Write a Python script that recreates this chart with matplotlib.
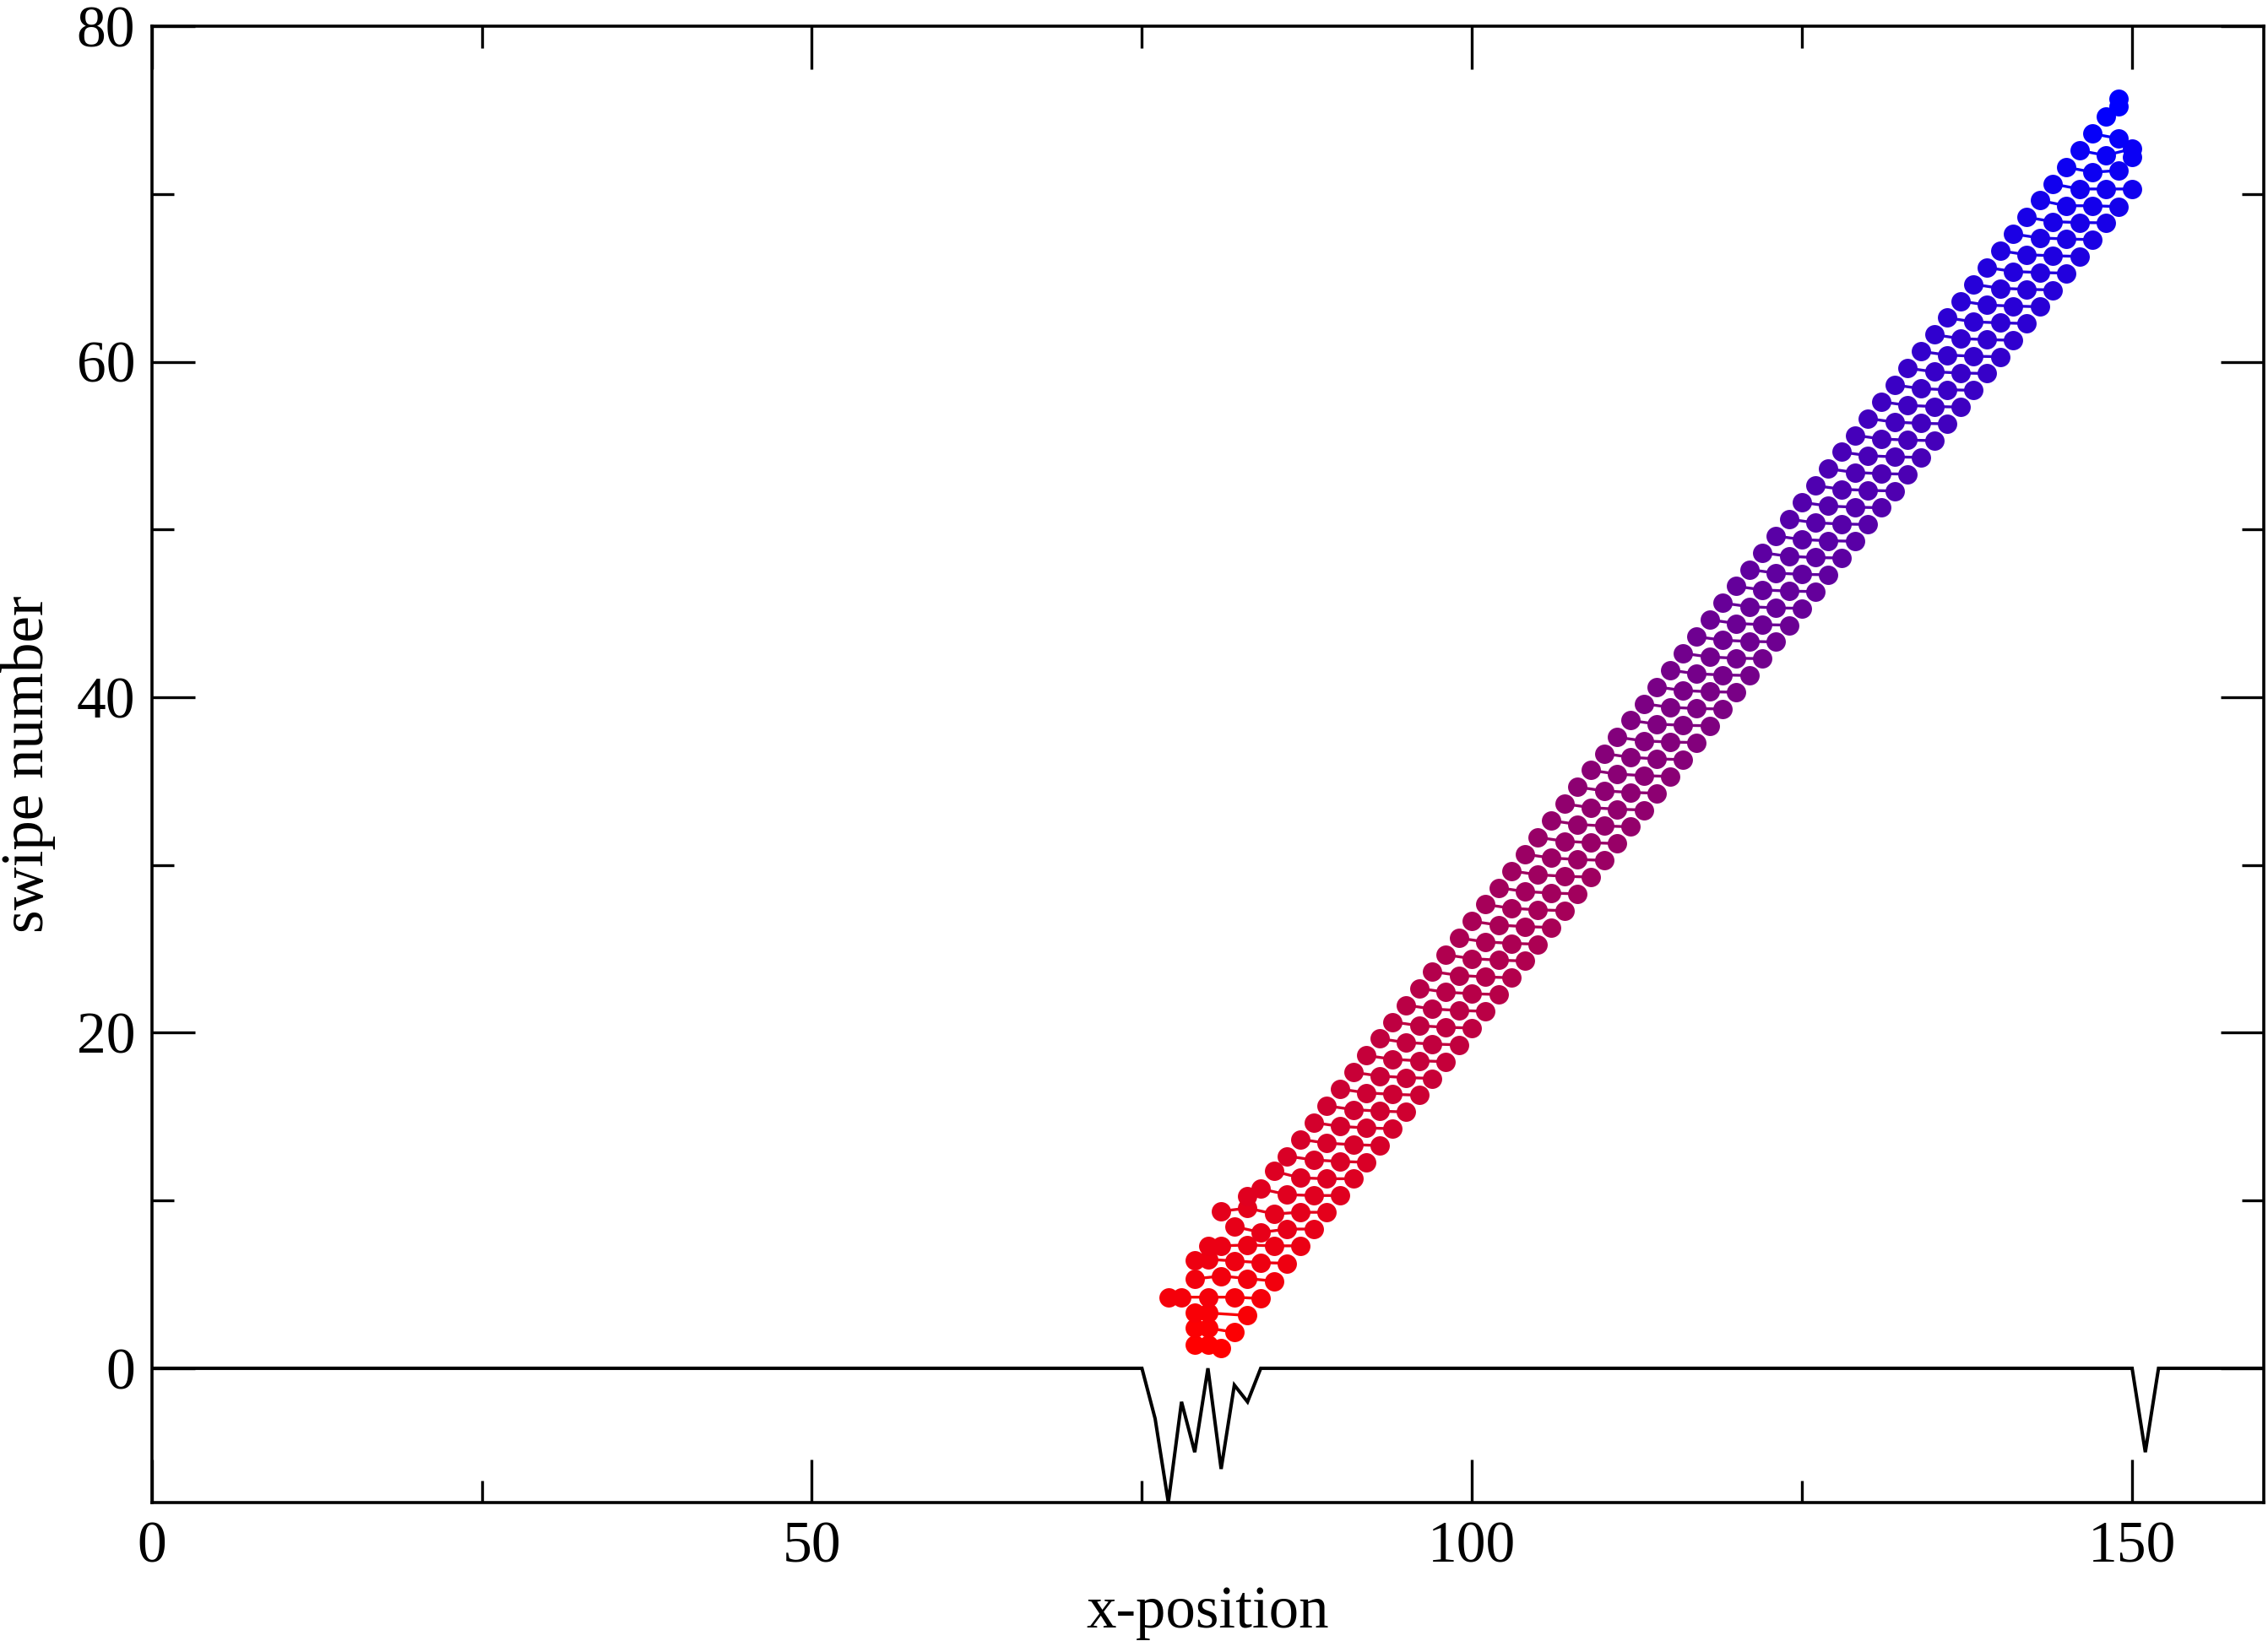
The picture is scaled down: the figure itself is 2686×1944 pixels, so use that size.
import matplotlib
matplotlib.use("Agg")
import matplotlib.pyplot as plt
from matplotlib.colors import LinearSegmentedColormap, Normalize
from matplotlib.ticker import MultipleLocator

# ---------------- data ----------------
swipes = list(range(1, 76))

swipe_x = [
    [79, 80, 81],
    [79, 80, 82],
    [79, 80, 83],
    [77, 78, 80, 82, 84],
    [79, 81, 83, 85],
    [79, 80, 82, 84, 86],
    [80, 81, 83, 85, 87],
    [82, 84, 86, 88],
    [81, 83, 85, 87, 89],
    [83, 84, 86, 88, 90],
    [85, 87, 89, 91],
    [86, 88, 90, 92],
    [87, 89, 91, 93],
    [88, 90, 92, 94],
    [89, 91, 93, 95],
    [90, 92, 94, 96],
    [91, 93, 95, 97],
    [92, 94, 96, 98],
    [93, 95, 97, 99],
    [94, 96, 98, 100],
    [95, 97, 99, 101],
    [96, 98, 100, 102],
    [97, 99, 101, 103],
    [98, 100, 102, 104],
    [99, 101, 103, 105],
    [100, 102, 104, 106],
    [101, 103, 105, 107],
    [102, 104, 106, 108],
    [103, 105, 107, 109],
    [104, 106, 108, 110],
    [105, 107, 109, 111],
    [106, 108, 110, 112],
    [107, 109, 111, 113],
    [108, 110, 112, 114],
    [109, 111, 113, 115],
    [110, 112, 114, 116],
    [111, 113, 115, 117],
    [112, 114, 116, 118],
    [113, 115, 117, 119],
    [114, 116, 118, 120],
    [115, 117, 119, 121],
    [116, 118, 120, 122],
    [117, 119, 121, 123],
    [118, 120, 122, 124],
    [119, 121, 123, 125],
    [120, 122, 124, 126],
    [121, 123, 125, 127],
    [122, 124, 126, 128],
    [123, 125, 127, 129],
    [124, 126, 128, 130],
    [125, 127, 129, 131],
    [126, 128, 130, 132],
    [127, 129, 131, 133],
    [128, 130, 132, 134],
    [129, 131, 133, 135],
    [130, 132, 134, 136],
    [131, 133, 135, 137],
    [132, 134, 136, 138],
    [133, 135, 137, 139],
    [134, 136, 138, 140],
    [135, 137, 139, 141],
    [136, 138, 140, 142],
    [137, 139, 141, 143],
    [138, 140, 142, 144],
    [139, 141, 143, 145],
    [140, 142, 144, 146],
    [141, 143, 145, 147],
    [142, 144, 146, 148],
    [143, 145, 147, 149],
    [144, 146, 148, 150],
    [145, 147, 149],
    [146, 148, 150, 150],
    [147, 149],
    [148],
    [149, 149],
]

swipe_y = [
    [1.39, 1.39, 1.22],
    [2.40, 2.40, 2.15],
    [3.30, 3.30, 3.15],
    [4.24, 4.24, 4.24, 4.24, 4.16],
    [5.33, 5.50, 5.35, 5.20],
    [6.45, 6.50, 6.40, 6.30, 6.26],
    [7.30, 7.30, 7.35, 7.30, 7.30],
    [8.45, 8.10, 8.30, 8.30],
    [9.36, 9.55, 9.20, 9.30, 9.30],
    [10.25, 10.70, 10.35, 10.30, 10.30],
    [11.75, 11.35, 11.30, 11.30],
    [12.65, 12.42, 12.33, 12.28],
    [13.65, 13.42, 13.33, 13.28],
    [14.65, 14.42, 14.33, 14.28],
    [15.65, 15.42, 15.33, 15.28],
    [16.65, 16.42, 16.33, 16.28],
    [17.65, 17.42, 17.33, 17.28],
    [18.65, 18.42, 18.33, 18.28],
    [19.65, 19.42, 19.33, 19.28],
    [20.65, 20.42, 20.33, 20.28],
    [21.65, 21.42, 21.33, 21.28],
    [22.65, 22.42, 22.33, 22.28],
    [23.65, 23.42, 23.33, 23.28],
    [24.65, 24.42, 24.33, 24.28],
    [25.65, 25.42, 25.33, 25.28],
    [26.65, 26.42, 26.33, 26.28],
    [27.65, 27.42, 27.33, 27.28],
    [28.65, 28.42, 28.33, 28.28],
    [29.65, 29.42, 29.33, 29.28],
    [30.65, 30.42, 30.33, 30.28],
    [31.65, 31.42, 31.33, 31.28],
    [32.65, 32.42, 32.33, 32.28],
    [33.65, 33.42, 33.33, 33.28],
    [34.65, 34.42, 34.33, 34.28],
    [35.65, 35.42, 35.33, 35.28],
    [36.65, 36.42, 36.33, 36.28],
    [37.62, 37.40, 37.33, 37.30],
    [38.62, 38.40, 38.33, 38.30],
    [39.62, 39.40, 39.33, 39.30],
    [40.62, 40.40, 40.33, 40.30],
    [41.62, 41.40, 41.33, 41.30],
    [42.62, 42.40, 42.33, 42.30],
    [43.62, 43.40, 43.33, 43.30],
    [44.62, 44.40, 44.33, 44.30],
    [45.62, 45.40, 45.33, 45.30],
    [46.62, 46.40, 46.33, 46.30],
    [47.62, 47.40, 47.33, 47.30],
    [48.62, 48.40, 48.33, 48.30],
    [49.62, 49.40, 49.33, 49.30],
    [50.62, 50.40, 50.33, 50.30],
    [51.62, 51.40, 51.33, 51.30],
    [52.62, 52.40, 52.33, 52.30],
    [53.62, 53.40, 53.33, 53.30],
    [54.62, 54.40, 54.33, 54.30],
    [55.62, 55.40, 55.33, 55.30],
    [56.62, 56.40, 56.33, 56.30],
    [57.62, 57.40, 57.33, 57.30],
    [58.62, 58.40, 58.33, 58.30],
    [59.62, 59.40, 59.33, 59.30],
    [60.62, 60.40, 60.33, 60.30],
    [61.62, 61.38, 61.32, 61.28],
    [62.62, 62.38, 62.32, 62.28],
    [63.62, 63.38, 63.32, 63.28],
    [64.62, 64.38, 64.32, 64.28],
    [65.62, 65.38, 65.32, 65.28],
    [66.62, 66.38, 66.32, 66.28],
    [67.62, 67.38, 67.32, 67.28],
    [68.62, 68.35, 68.30, 68.28],
    [69.62, 69.30, 69.30, 69.25],
    [70.60, 70.30, 70.30, 70.30],
    [71.60, 71.30, 71.40],
    [72.60, 72.30, 72.70, 72.20],
    [73.60, 73.30],
    [74.60],
    [75.70, 75.20],
]

baseline_x = [0, 75, 76, 77, 78, 79, 80, 81, 82, 83, 84, 150, 151, 152, 160]
baseline_y = [0, 0, -3, -8, -2, -5, 0, -6, -1, -2, 0, 0, -5, 0, 0]

x_ticks = [0, 50, 100, 150]
y_ticks = [0, 20, 40, 60, 80]

# ---------------- plot ----------------
plt.rcParams["font.family"] = ["Liberation Serif", "DejaVu Serif"]

fig = plt.figure(figsize=(26.86, 19.44), dpi=100)
ax = fig.add_axes([0.0669, 0.0844, 0.9314, 0.8996])

cmap = LinearSegmentedColormap.from_list("rb", [(1.0, 0.0, 0.0), (0.0, 0.0, 1.0)])
norm = Normalize(vmin=swipes[0], vmax=swipes[-1])

ax.plot(baseline_x, baseline_y, color="black", lw=2.9, zorder=2, solid_joinstyle="miter")

for n, xs, ys in zip(swipes, swipe_x, swipe_y):
    c = cmap(norm(n))
    ax.plot(xs, ys, color=c, lw=2.4, marker="o", markersize=16.5,
            markeredgewidth=0, zorder=3)

ax.set_xlim(0, 160)
ax.set_ylim(-8, 80)
ax.set_xticks(x_ticks)
ax.set_yticks(y_ticks)
ax.xaxis.set_minor_locator(MultipleLocator(25))
ax.yaxis.set_minor_locator(MultipleLocator(10))

ax.tick_params(which="both", direction="in", top=True, right=True, width=2.4)
ax.tick_params(which="major", length=37, labelsize=50)
ax.tick_params(which="minor", length=19)
ax.tick_params(axis="x", which="major", pad=16)
ax.tick_params(axis="y", which="major", pad=14)

for s in ax.spines.values():
    s.set_linewidth(2.6)

ax.set_xlabel("x-position", fontsize=51, labelpad=9)
ax.set_ylabel("swipe number", fontsize=51, labelpad=18)

fig.savefig("out.png", dpi=100)
